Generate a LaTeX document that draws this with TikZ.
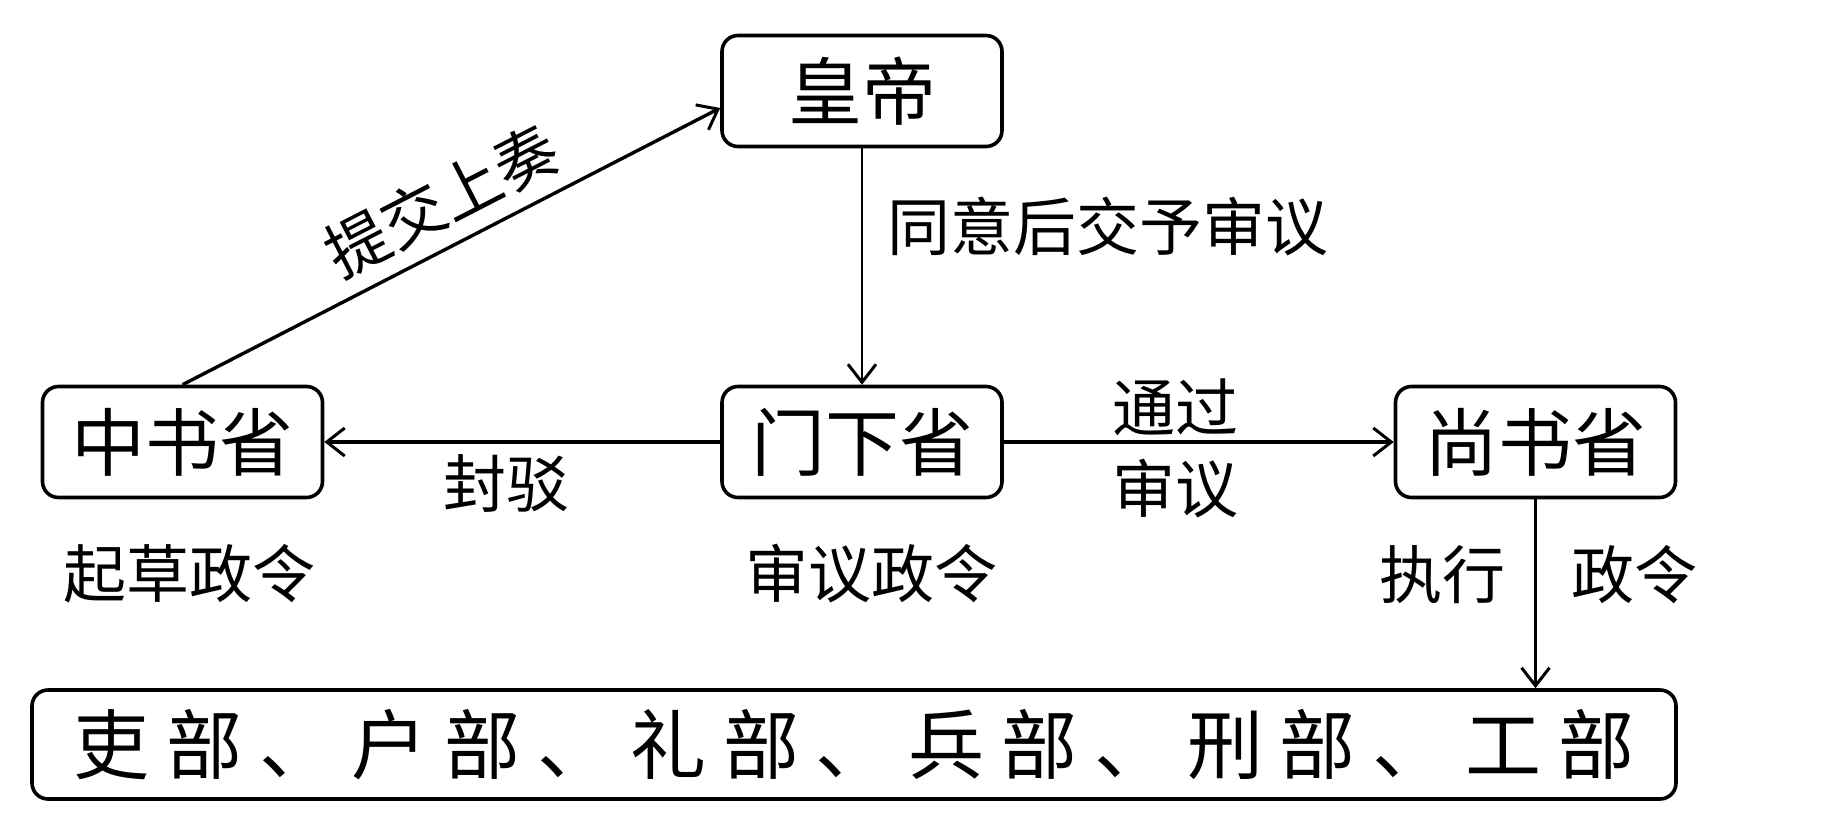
\documentclass[tikz,border=0pt]{standalone}
\usepackage{fontspec}
\setmainfont{Noto Sans CJK SC}
\usetikzlibrary{arrows.meta}
\newcommand\gapx{\hspace{8.4pt}}
\begin{document}
\begin{tikzpicture}[x=0.5pt,y=-0.5pt,
  box/.style={draw, line width=1.8pt, rounded corners=8pt, minimum width=140pt, minimum height=55.5pt, inner sep=0pt, font=\fontsize{37}{37}\selectfont},
  lbl/.style={font=\fontsize{31.5}{31.5}\selectfont, inner sep=0pt},
  arr/.style={line width=1.7pt, -{Straight Barb[length=9pt,width=14pt,line width=1.5pt]}}]
\useasboundingbox (0,0) rectangle (1834,833);
\node[box] (hd) at (862,91) {皇帝};
\node[box] (zs) at (182.5,442) {中书省};
\node[box] (mx) at (862,442) {门下省};
\node[box] (ss) at (1535.5,442) {尚书省};
\node[box, minimum width=822pt, minimum height=54.5pt, font=\fontsize{38}{38}\selectfont] (bt) at (854,744.5) {吏\gapx 部\gapx 、\gapx 户\gapx 部\gapx 、\gapx 礼\gapx 部\gapx 、\gapx 兵\gapx 部\gapx 、\gapx 刑\gapx 部\gapx 、\gapx 工\gapx 部\hspace{16pt}};
\draw[arr] (zs.north) -- node[lbl, sloped, above=7pt, pos=0.52] {提交上奏} ([yshift=-8.5pt]hd.west);
\draw[arr, line width=1.2pt] (hd.south) -- node[lbl, right=12pt, pos=0.33] {同意后交予审议} (mx.north);
\draw[arr] (mx.west) -- node[lbl, below=5.5pt, pos=0.54] {封驳} (zs.east);
\draw[arr] (mx.east) -- node[lbl, above=2pt, pos=0.44] {通过} node[lbl, below=7.5pt, pos=0.44] {审议} (ss.west);
\draw[arr] (ss.south) -- node[lbl, left=14pt, pos=0.4] {执行} node[lbl, right=17pt, pos=0.4] {政令} (ss.south |- bt.north);
\node[lbl] (zc) at (189,574) {起草政令};
\node[lbl] (mc) at (871,574) {审议政令};
\end{tikzpicture}
\end{document}
